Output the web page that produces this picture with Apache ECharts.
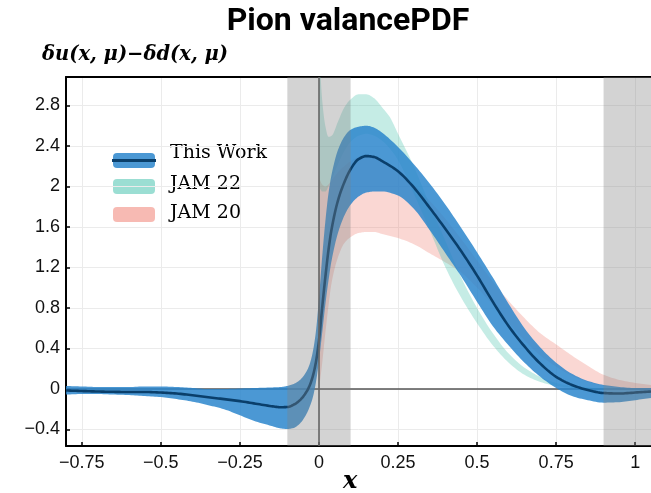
<!DOCTYPE html>
<html>
<head>
<meta charset="utf-8">
<script src="https://cdn.jsdelivr.net/npm/echarts@6/dist/echarts.min.js"></script>
<style>html,body{margin:0;padding:0;background:#fff}#c{width:651px;height:493px}</style>
</head>
<body>
<div id="c"></div>
<script>
// ---- data ----
var xTicks = [-0.75, -0.5, -0.25, 0, 0.25, 0.5, 0.75, 1];
var yTicks = [-0.4, 0, 0.4, 0.8, 1.2, 1.6, 2, 2.4, 2.8];

var xTW = [-0.8,-0.75,-0.7,-0.65,-0.6,-0.55,-0.5,-0.45,-0.4,-0.35,-0.3,-0.25,-0.2,-0.15,-0.12,-0.1,-0.08,-0.06,-0.04,-0.03,-0.02,-0.01,0,0.01,0.02,0.03,0.04,0.06,0.08,0.1,0.125,0.15,0.175,0.2,0.25,0.3,0.35,0.4,0.45,0.5,0.55,0.6,0.65,0.7,0.75,0.8,0.85,0.9,0.95,1.0,1.05];
var twMid = [-0.015,-0.02,-0.025,-0.028,-0.03,-0.03,-0.035,-0.045,-0.062,-0.082,-0.1,-0.12,-0.145,-0.17,-0.18,-0.178,-0.155,-0.11,-0.03,0.03,0.12,0.26,0.48,0.8,1.1,1.37,1.58,1.86,2.04,2.17,2.27,2.3,2.29,2.25,2.15,1.99,1.79,1.58,1.36,1.12,0.86,0.62,0.42,0.25,0.12,0.04,-0.01,-0.04,-0.045,-0.035,-0.025];
var twLow = [-0.055,-0.05,-0.05,-0.055,-0.06,-0.07,-0.08,-0.1,-0.125,-0.16,-0.2,-0.26,-0.32,-0.365,-0.39,-0.395,-0.385,-0.34,-0.25,-0.18,-0.09,0.06,0.28,0.55,0.83,1.07,1.27,1.54,1.71,1.82,1.9,1.94,1.95,1.95,1.91,1.78,1.57,1.34,1.11,0.86,0.62,0.43,0.26,0.12,0.01,-0.07,-0.11,-0.135,-0.13,-0.11,-0.09];
var twHigh = [0.03,0.025,0.02,0.02,0.02,0.025,0.025,0.02,0.01,0.0,0.0,0.005,0.01,0.015,0.02,0.03,0.05,0.09,0.17,0.24,0.36,0.56,0.9,1.3,1.65,1.93,2.12,2.36,2.49,2.56,2.59,2.6,2.58,2.53,2.39,2.22,2.03,1.82,1.59,1.35,1.1,0.84,0.6,0.41,0.26,0.15,0.08,0.04,0.02,0.01,0.01];

var xJam = [0,0.005,0.01,0.02,0.03,0.04,0.06,0.08,0.1,0.125,0.15,0.175,0.2,0.225,0.25,0.3,0.35,0.4,0.45,0.5,0.55,0.6,0.65,0.7,0.75,0.8,0.85,0.9,0.95,1.0,1.05];
var jam22High = [3.4,3.1,2.86,2.6,2.49,2.5,2.64,2.78,2.86,2.91,2.91,2.87,2.78,2.68,2.52,2.2,1.82,1.46,1.1,0.8,0.55,0.35,0.21,0.12,0.06,0.03,0.015,0.005,0,0,0];
var jam22Low = [2.0,1.97,1.95,1.95,2.0,2.07,2.22,2.35,2.44,2.5,2.52,2.5,2.45,2.37,2.26,1.93,1.57,1.2,0.9,0.65,0.43,0.26,0.14,0.07,0.03,0.01,0,0,0,0,0];
var jam20High = [2.1,2.05,2.02,2.0,2.02,2.06,2.14,2.2,2.25,2.29,2.3,2.3,2.26,2.21,2.15,2.02,1.86,1.68,1.48,1.27,1.06,0.87,0.7,0.55,0.44,0.33,0.23,0.14,0.09,0.06,0.04];
var jam20Low = [0,0.12,0.25,0.55,0.82,1.05,1.3,1.44,1.5,1.54,1.55,1.55,1.53,1.51,1.49,1.43,1.34,1.25,1.15,1.0,0.83,0.65,0.48,0.33,0.22,0.13,0.07,0.03,0.01,0,-0.01];

var shadeRegions = [[-0.1, 0.1], [0.9, 1.05]];
var legendNames = ['This Work', 'JAM 22', 'JAM 20'];

// ---- helpers ----
function fmt(v) { return String(v).replace('-', '\u2212'); }

// monotone cubic (Fritsch-Butland) through pixel points with increasing x
function smoothPts(p, steps) {
  var n = p.length, out = [], d = [], m = [], i, k;
  if (n < 3) return p.slice();
  for (i = 0; i < n - 1; i++) {
    var dx = p[i + 1][0] - p[i][0];
    d.push(dx === 0 ? 0 : (p[i + 1][1] - p[i][1]) / dx);
  }
  m[0] = d[0]; m[n - 1] = d[n - 2];
  for (i = 1; i < n - 1; i++) {
    var h0 = p[i][0] - p[i - 1][0], h1 = p[i + 1][0] - p[i][0];
    if (d[i - 1] * d[i] <= 0) m[i] = 0;
    else m[i] = 3 * (h0 + h1) / ((2 * h1 + h0) / d[i - 1] + (h1 + 2 * h0) / d[i]);
  }
  for (i = 0; i < n - 1; i++) {
    var x0 = p[i][0], y0 = p[i][1], x1 = p[i + 1][0], y1 = p[i + 1][1], h = x1 - x0;
    for (k = 0; k < steps; k++) {
      var t = k / steps, t2 = t * t, t3 = t2 * t;
      var y = (2 * t3 - 3 * t2 + 1) * y0 + (t3 - 2 * t2 + t) * h * m[i] + (-2 * t3 + 3 * t2) * y1 + (t3 - t2) * h * m[i + 1];
      out.push([x0 + t * h, y]);
    }
  }
  out.push(p[n - 1].slice());
  return out;
}

function clipRect(cs) { return { type: 'rect', shape: { x: cs.x, y: cs.y, width: cs.width, height: cs.height } }; }

function bandSeries(name, xs, lo, hi, color, z) {
  return {
    name: name, type: 'custom', z: z, clip: true, silent: true,
    data: xs.map(function (x, i) { return [x, lo[i], hi[i]]; }),
    encode: { x: 0, y: [1, 2] },
    renderItem: function (params, api) {
      if (params.dataIndex !== 0) return null;
      var up = [], dn = [];
      for (var i = 0; i < xs.length; i++) {
        up.push(api.coord([xs[i], hi[i]]));
        dn.push(api.coord([xs[i], lo[i]]));
      }
      var pts = smoothPts(up, 8).concat(smoothPts(dn, 8).reverse());
      return { type: 'polygon', shape: { points: pts }, style: { fill: color, stroke: null },
        clipPath: clipRect(params.coordSys) };
    }
  };
}
function lineSeries(name, xs, ys, color, width, z) {
  return {
    name: name, type: 'custom', z: z, clip: true, silent: true,
    data: xs.map(function (x, i) { return [x, ys[i]]; }),
    encode: { x: 0, y: 1 },
    renderItem: function (params, api) {
      if (params.dataIndex !== 0) return null;
      var p = [];
      for (var i = 0; i < xs.length; i++) p.push(api.coord([xs[i], ys[i]]));
      return { type: 'polyline', shape: { points: smoothPts(p, 8) }, style: { stroke: color, lineWidth: width, fill: null },
        clipPath: clipRect(params.coordSys) };
    }
  };
}

var chart = echarts.init(document.getElementById('c'), null, { renderer: 'canvas' });

var TW_COLOR = 'rgba(40,132,204,0.84)';
var J22_COLOR = 'rgba(64,192,170,0.30)';
var J20_COLOR = 'rgba(240,122,110,0.30)';

var option = {
  animation: false,
  backgroundColor: '#fff',
  title: {
    text: 'Pion valancePDF', left: 343, top: 1, textAlign: 'center',
    textStyle: { fontFamily: 'Liberation Sans Narrow, Roboto, Noto Sans', fontWeight: 'bold', fontSize: 32, color: '#000' }
  },
  grid: { left: 66, top: 77, width: 589, height: 369, containLabel: false },
  xAxis: [{
    type: 'value', min: -0.8, max: 1.05,
    axisLine: { show: true, onZero: false, lineStyle: { color: '#000', width: 2 } },
    axisTick: { show: true, inside: true, length: 4, customValues: xTicks, lineStyle: { color: '#000', width: 1.5 } },
    axisLabel: { customValues: xTicks, formatter: fmt, margin: 8, fontSize: 18, color: '#111', fontFamily: 'Liberation Sans, Arial' },
    splitLine: { show: true, lineStyle: { color: '#ebebeb', width: 1 } }
  }, {
    type: 'value', min: -0.8, max: 1.05, position: 'top',
    axisLine: { show: true, onZero: false, lineStyle: { color: '#000', width: 2 } },
    axisTick: { show: false }, axisLabel: { show: false }, splitLine: { show: false }
  }],
  yAxis: {
    type: 'value', min: -0.563, max: 3.081,
    axisLine: { show: true, onZero: false, lineStyle: { color: '#000', width: 2 } },
    axisTick: { show: true, inside: true, length: 4, customValues: yTicks, lineStyle: { color: '#000', width: 1.5 } },
    axisLabel: { customValues: yTicks, formatter: fmt, margin: 6, fontSize: 18, color: '#111', fontFamily: 'Liberation Sans, Arial' },
    splitLine: { show: true, lineStyle: { color: '#ebebeb', width: 1 } }
  },
  series: [
    { name: 'zeroH', type: 'line', data: [], z: 1, silent: true,
      markLine: { silent: true, z: 1, symbol: 'none', label: { show: false }, animation: false,
        lineStyle: { color: '#555', width: 1.6, type: 'solid' }, data: [{ yAxis: 0 }] } },
    bandSeries(legendNames[2], xJam, jam20Low, jam20High, J20_COLOR, 3),
    bandSeries(legendNames[1], xJam, jam22Low, jam22High, J22_COLOR, 4),
    bandSeries(legendNames[0], xTW, twLow, twHigh, TW_COLOR, 5),
    lineSeries('central', xTW, twMid, '#0a3f6b', 2.6, 6),
    { name: 'shade', type: 'line', data: [], z: 8, silent: true,
      markArea: { silent: true, z: 10, itemStyle: { color: 'rgba(128,128,128,0.35)' },
        data: shadeRegions.map(function (r) { return [{ xAxis: r[0] }, { xAxis: r[1] }]; }) },
      markLine: { silent: true, z: 11, symbol: 'none', label: { show: false },
        lineStyle: { color: '#666', width: 1.6, type: 'solid' }, data: [{ xAxis: 0 }] } }
  ],
  graphic: [
    { type: 'text', left: 42, top: 45, style: { text: '\u03B4u(x, \u03BC)\u2212\u03B4d(x, \u03BC)', fontFamily: 'DejaVu Serif', fontStyle: 'italic', fontWeight: 'bold', fontSize: 19.5, fill: '#000' } },
    { type: 'text', left: 343, top: 470, style: { text: 'x', fontFamily: 'DejaVu Serif', fontStyle: 'italic', fontWeight: 'bold', fontSize: 24, fill: '#000' } },
    // legend
    { type: 'rect', shape: { x: 113, y: 153, width: 42, height: 15, r: 4 }, style: { fill: TW_COLOR } },
    { type: 'line', shape: { x1: 112, y1: 160.5, x2: 156, y2: 160.5 }, style: { stroke: '#0a3f6b', lineWidth: 3 } },
    { type: 'rect', shape: { x: 113, y: 179, width: 42, height: 15, r: 4 }, style: { fill: 'rgba(64,192,170,0.52)' } },
    { type: 'rect', shape: { x: 113, y: 207, width: 42, height: 15, r: 4 }, style: { fill: 'rgba(240,122,110,0.52)' } },
    { type: 'text', left: 170, top: 144, style: { text: legendNames[0], fontFamily: 'DejaVu Serif', fontSize: 19, fill: '#000' } },
    { type: 'text', left: 170, top: 175, style: { text: legendNames[1], fontFamily: 'DejaVu Serif', fontSize: 19, fill: '#000' } },
    { type: 'text', left: 170, top: 204, style: { text: legendNames[2], fontFamily: 'DejaVu Serif', fontSize: 19, fill: '#000' } }
  ]
};
chart.setOption(option);
</script>
</body>
</html>
